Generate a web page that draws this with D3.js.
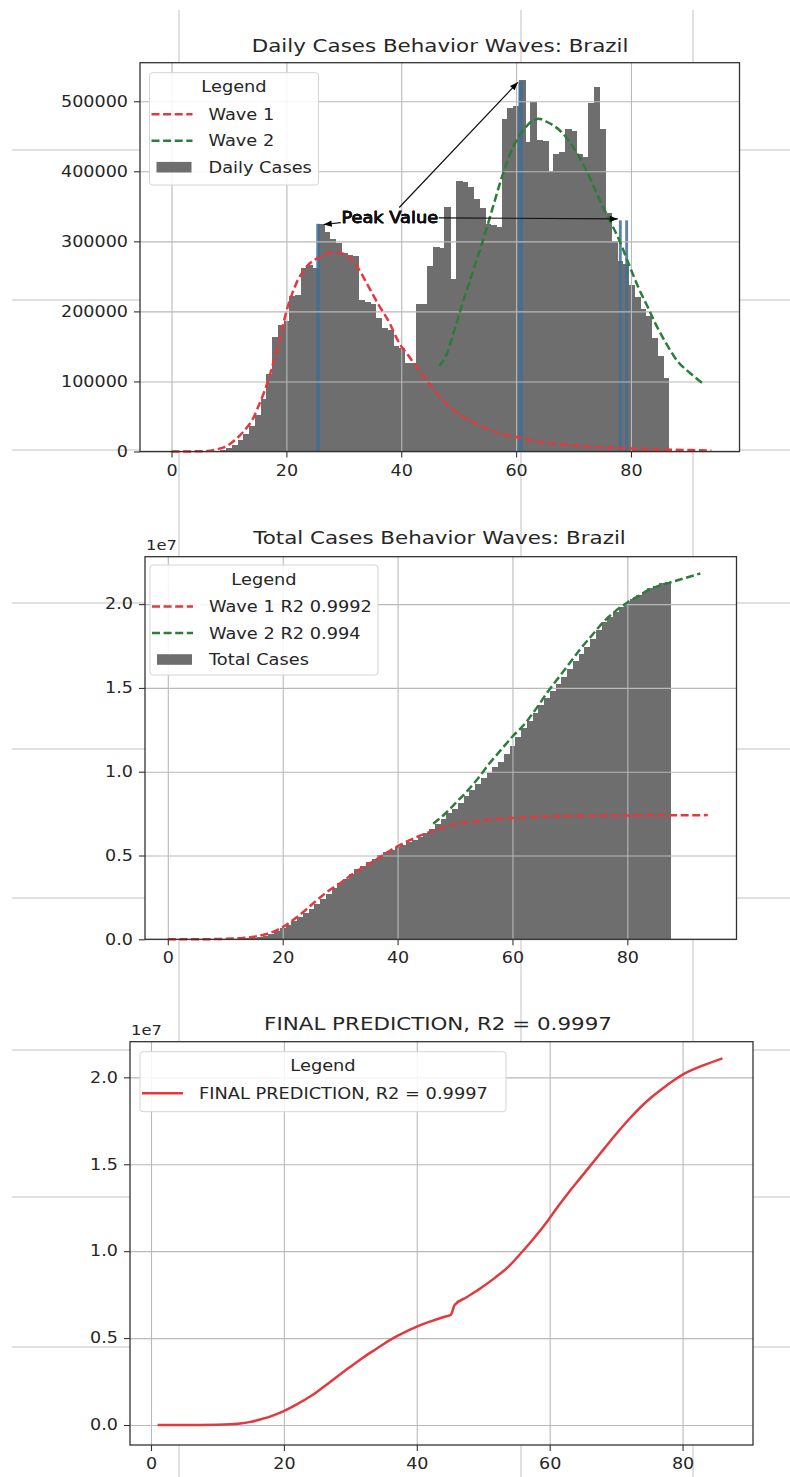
<!DOCTYPE html>
<html>
<head>
<meta charset="utf-8">
<title>Behavior Waves: Brazil</title>
<script src="https://cdn.jsdelivr.net/npm/d3@7"></script>
<style>
  html, body { margin: 0; padding: 0; background: #fff; }
  svg { display: block; }
  text { font-family: "DejaVu Sans", sans-serif; fill: #262626; }
</style>
</head>
<body>
<svg id="chart" width="790" height="1477"></svg>
<script>
// ---------- values ----------

// week index of each bar
const dailyWeeks = d3.range(0, 87);
const totalWeeks = d3.range(0, 88);

// weekly new cases (panel 1 bars)
const dailyCases = [
  0, 0, 0, 0, 0, 0, 0, 30, 300, 1500,
  4500, 9000, 16000, 25000, 36000, 52000, 75000, 110000, 163000, 180000,
  186000, 222000, 224000, 262000, 266000, 262000, 325000, 313000, 304000, 297000,
  283000, 281000, 279000, 216000, 213000, 211000, 191000, 176000, 174000, 150000,
  148000, 127000, 126000, 211000, 210000, 265000, 292000, 290000, 349000, 246000,
  386000, 385000, 377000, 361000, 347000, 325000, 323000, 321000, 475000, 490000,
  493000, 530000, 442000, 499000, 444000, 443000, 401000, 425000, 427000, 461000,
  458000, 424000, 421000, 497000, 521000, 461000, 340000, 300000, 272000, 268000,
  238000, 221000, 204000, 194000, 162000, 137000, 105000
];

// total cases, in units of 1e7 (panel 2 bars)
const totalCases = [
  0, 0, 0, 0, 0, 0, 0, 0, 0.0000, 0.0000,
  0.0002, 0.0006, 0.0015, 0.0031, 0.0056, 0.0092, 0.0144, 0.0219, 0.0329, 0.0492,
  0.0672, 0.0858, 0.1080, 0.1304, 0.1566, 0.1832, 0.2094, 0.2419, 0.2732, 0.3036,
  0.3333, 0.3616, 0.3897, 0.4176, 0.4392, 0.4605, 0.4816, 0.5007, 0.5183, 0.5357,
  0.5507, 0.5655, 0.5782, 0.5908, 0.6119, 0.6329, 0.6594, 0.6886, 0.7176, 0.7525,
  0.7771, 0.8157, 0.8542, 0.8919, 0.9280, 0.9627, 0.9952, 1.0275, 1.0596, 1.1071,
  1.1561, 1.2054, 1.2584, 1.3026, 1.3525, 1.3969, 1.4412, 1.4813, 1.5238, 1.5665,
  1.6126, 1.6584, 1.7008, 1.7429, 1.7926, 1.8447, 1.8908, 1.9248, 1.9548, 1.9820,
  2.0088, 2.0326, 2.0547, 2.0751, 2.0945, 2.1107, 2.1244, 2.1349
];

// fitted waves on the daily chart [week, cases]
const wave1Daily = [
  [0, 0], [5, 300], [9, 5600], [11, 16000], [13, 33000], [14, 44000], [15, 62000],
  [16, 82000], [17, 106000], [18, 135000], [19, 165000], [20, 200000], [21, 225000],
  [22, 245000], [23, 258000], [24, 268000], [25, 274000], [26, 278000], [27, 282000],
  [28, 284000], [29, 284000], [30, 282000], [31, 277000], [32, 268000], [33, 255000],
  [34, 240000], [35, 225000], [36, 210000], [37, 197000], [38, 183000], [39, 165000],
  [40, 150000], [41, 140000], [42, 128000], [44, 106000], [46, 85000], [48, 67000],
  [50, 54000], [52, 44000], [54, 36000], [56, 29000], [58, 24000], [61, 19000],
  [64, 14000], [68, 10000], [72, 7500], [78, 5000], [85, 3000], [94, 1500]
];
const wave2Daily = [
  [46.6, 122000], [47.9, 139000], [49.5, 180000], [51.2, 225000], [53, 270000],
  [54.6, 311000], [56, 350000], [57.9, 401000], [59.5, 435000], [61.3, 459000],
  [62.5, 470000], [63.9, 475000], [65.5, 470000], [67.9, 456000], [69.5, 440000],
  [71.3, 416000], [73, 388000], [74.6, 358000], [76.3, 330000], [78, 301000],
  [79.6, 268000], [81.3, 234000], [83, 205000], [84.6, 177000], [86.3, 152000],
  [88, 130000], [90.3, 112000], [92.7, 96000]
];

// fitted waves on the total chart [week, 1e7 cases]
const wave1Total = [
  [0, 0], [5, 0.0003], [10, 0.003], [13, 0.008], [15, 0.015], [17, 0.03], [19, 0.055],
  [20, 0.073], [22, 0.12], [24, 0.175], [26, 0.235], [28, 0.29], [30, 0.335], [32, 0.385],
  [34, 0.43], [36, 0.47], [38, 0.515], [40, 0.555], [42, 0.59], [44, 0.62], [46, 0.645],
  [48, 0.668], [50, 0.687], [55, 0.71], [60, 0.724], [65, 0.732], [70, 0.736],
  [80, 0.739], [94, 0.741]
];
const wave2Total = [
  [46.2, 0.69], [48, 0.74], [50, 0.81], [52, 0.88], [54, 0.96], [56, 1.05], [58, 1.13],
  [60, 1.21], [62, 1.28], [64, 1.37], [66, 1.47], [68, 1.56], [70, 1.65], [72, 1.74],
  [74, 1.82], [76, 1.9], [78, 1.96], [80, 2.01], [82, 2.05], [84, 2.09], [86, 2.115],
  [88, 2.135], [90, 2.155], [92.7, 2.183]
];

// final prediction [week, 1e7 cases]
const finalPrediction = [
  [1, 0], [5, 0.0003], [10, 0.002], [12, 0.005], [14, 0.012], [15, 0.018], [16, 0.027],
  [17, 0.038], [18, 0.05], [19, 0.064], [20, 0.08], [22, 0.12], [24, 0.165], [26, 0.22],
  [28, 0.278], [30, 0.335], [32, 0.39], [34, 0.44], [36, 0.49], [38, 0.53], [40, 0.566],
  [42, 0.595], [44.2, 0.623], [45.1, 0.633], [45.7, 0.69], [47.5, 0.735], [49.6, 0.787],
  [51.7, 0.845], [53.8, 0.911], [55.6, 0.985], [57.4, 1.064], [59.8, 1.18], [61.3, 1.26],
  [62.8, 1.335], [64.6, 1.42], [66.4, 1.505], [68.2, 1.59], [70, 1.674], [71.8, 1.753],
  [73.6, 1.825], [75.4, 1.888], [77.2, 1.942], [78.7, 1.983], [80.2, 2.02], [81.7, 2.047],
  [83.2, 2.07], [86, 2.109]
];

// blue peak markers on the daily chart [from week, to week, cases]
const peakMarks = [
  [25.2, 25.8, 325000], [60.4, 61.2, 528000], [77.9, 78.4, 330000], [79.0, 79.5, 330000]
];
// where the "Peak Value" arrows point, and where the label sits
const peakPoints = [[26.5, 324000], [60.3, 527000], [77.7, 332000]];
const peakLabelAt = [38, 334000];

const xTicks = [0, 20, 40, 60, 80];
const dailyTicks = [0, 100000, 200000, 300000, 400000, 500000];
const totalTicks = [0, 0.5, 1.0, 1.5, 2.0];

// ---------- drawing ----------
const svg = d3.select('#chart');
const SX = 1.17;            // lettering in the reference is stretched sideways
const BAR = '#6e6e6e';
const RED = '#e3393c';
const GREEN = '#2b7d38';

// faint page grid behind the figure
const pageRows = [150, 300, 450, 603, 749, 898, 1050, 1197, 1347];
const pageCols = [179, 521, 693];
const page = svg.append('g');
pageRows.forEach(y => page.append('line').attr('x1', 12).attr('x2', 790).attr('y1', y).attr('y2', y)
  .attr('stroke', '#e0e0e0').attr('stroke-width', 2));
pageCols.forEach(x => page.append('line').attr('x1', x).attr('x2', x).attr('y1', 10).attr('y2', 1477)
  .attr('stroke', '#e0e0e0').attr('stroke-width', 2));

svg.append('defs').append('marker')
  .attr('id', 'head').attr('viewBox', '0 0 10 10').attr('refX', 10).attr('refY', 5)
  .attr('markerWidth', 9).attr('markerHeight', 8).attr('markerUnits', 'userSpaceOnUse')
  .attr('orient', 'auto')
  .append('path').attr('d', 'M0,1L10,5L0,9Z').attr('fill', '#000');

function label(g, x, y, str, size, anchor = 'start') {
  return g.append('text')
    .attr('transform', `translate(${x},${y}) scale(${SX},1)`)
    .attr('text-anchor', anchor)
    .style('font-size', size + 'px')
    .text(str);
}

function setupPanel(cfg) {
  const x = d3.scaleLinear().domain(cfg.xDomain).range([cfg.left, cfg.right]);
  const y = d3.scaleLinear().domain(cfg.yDomain).range([cfg.bottom, cfg.top]);
  const g = svg.append('g');
  g.append('rect')
    .attr('x', cfg.left).attr('y', cfg.top)
    .attr('width', cfg.right - cfg.left).attr('height', cfg.bottom - cfg.top)
    .attr('fill', '#fff');
  return { cfg, x, y, g };
}

// gridlines sit above the bars, below the curves
function drawGrid(p, yTicks) {
  const { cfg, x, y, g } = p;
  const grid = g.append('g');
  grid.append('g').attr('transform', `translate(0,${cfg.bottom})`)
    .call(d3.axisBottom(x).tickValues(xTicks).tickSize(-(cfg.bottom - cfg.top)).tickFormat(''));
  grid.append('g').attr('transform', `translate(${cfg.left},0)`)
    .call(d3.axisLeft(y).tickValues(yTicks).tickSize(-(cfg.right - cfg.left)).tickFormat(''));
  grid.selectAll('.domain').remove();
  grid.selectAll('line').attr('stroke', '#b9b9b9').attr('stroke-width', 1.1);
}

function drawAxes(p, yTicks, yFormat, title, titleX, titleY, offsetText) {
  const { cfg, x, y, g } = p;
  g.append('rect')
    .attr('x', cfg.left).attr('y', cfg.top)
    .attr('width', cfg.right - cfg.left).attr('height', cfg.bottom - cfg.top)
    .attr('fill', 'none').attr('stroke', '#333').attr('stroke-width', 1.3);

  const xa = g.append('g').attr('transform', `translate(0,${cfg.bottom})`)
    .call(d3.axisBottom(x).tickValues(xTicks).tickSize(6).tickSizeOuter(0));
  xa.selectAll('text').attr('y', 13.5).attr('dy', '0.71em')
    .attr('transform', `scale(${SX},1)`);

  const ya = g.append('g').attr('transform', `translate(${cfg.left},0)`)
    .call(d3.axisLeft(y).tickValues(yTicks).tickFormat(yFormat).tickSize(6).tickSizeOuter(0));
  ya.selectAll('text').attr('x', -12 / SX).attr('dy', '0.32em')
    .attr('transform', `scale(${SX},1)`);

  [xa, ya].forEach(a => {
    a.select('.domain').remove();
    a.selectAll('line').attr('stroke', '#333').attr('stroke-width', 1.1);
    a.selectAll('text').style('font-size', '15px').style('font-family', '"DejaVu Sans", sans-serif')
      .attr('fill', '#262626');
  });

  label(g, titleX, titleY, title, 18.3, 'middle');
  if (offsetText) label(g, cfg.left + 1, cfg.top - 7, offsetText, 14);
}

function drawLegend(g, box, items) {
  const lg = g.append('g');
  lg.append('rect')
    .attr('x', box.x).attr('y', box.y).attr('width', box.w).attr('height', box.h)
    .attr('rx', 3).attr('fill', '#fff').attr('fill-opacity', 0.85)
    .attr('stroke', '#d4d4d4').attr('stroke-width', 1);
  label(lg, box.x + box.w / 2, box.y + 19.5, 'Legend', 15.2, 'middle');
  const tx = box.x + 59;
  items.forEach((it, i) => {
    const base = box.y + 47 + i * 26.5;
    const mid = base - 5.5;
    if (it.kind === 'patch') {
      lg.append('rect').attr('x', tx - 52).attr('y', mid - 5.3)
        .attr('width', 35).attr('height', 10.6).attr('fill', it.color);
    } else {
      lg.append('line').attr('x1', tx - 57).attr('x2', tx - 16).attr('y1', mid).attr('y2', mid)
        .attr('stroke', it.color).attr('stroke-width', 2.5)
        .attr('stroke-dasharray', it.kind === 'dash' ? '8,3.6' : null);
    }
    label(lg, tx, base, it.label, 15.2);
  });
}

function curve(p, pts, color, dashed) {
  const line = d3.line().x(d => p.x(d[0])).y(d => p.y(d[1])).curve(d3.curveMonotoneX);
  p.g.append('path').datum(pts)
    .attr('d', line).attr('fill', 'none')
    .attr('stroke', color).attr('stroke-width', 2.5)
    .attr('stroke-dasharray', dashed ? '8,3.6' : null)
    .attr('stroke-linecap', 'butt');
}

function bars(p, weeks, values) {
  const w = p.x(1) - p.x(0);
  p.g.append('g').attr('shape-rendering', 'crispEdges')
    .selectAll('rect')
    .data(weeks.map((wk, i) => ({ wk, v: values[i] })))
    .join('rect')
    .attr('x', d => p.x(d.wk - 0.5))
    .attr('width', w + 1)
    .attr('y', d => p.y(d.v))
    .attr('height', d => p.y(0) - p.y(d.v))
    .attr('fill', BAR);
}

// ---- panel 1: daily cases ----
function renderDaily() {
  const p = setupPanel({ left: 140, top: 62.7, right: 739.5, bottom: 451.5,
    xDomain: [-5.49, 98.9], yDomain: [0, 555000] });

  bars(p, dailyWeeks, dailyCases);

  p.g.append('g').selectAll('rect').data(peakMarks).join('rect')
    .attr('x', d => p.x(d[0])).attr('width', d => p.x(d[1]) - p.x(d[0]))
    .attr('y', d => p.y(d[2])).attr('height', d => p.y(0) - p.y(d[2]))
    .attr('fill', '#3f6f98').attr('fill-opacity', 0.85);

  drawGrid(p, dailyTicks);
  curve(p, wave1Daily, RED, true);
  curve(p, wave2Daily, GREEN, true);

  // "Peak Value" annotations: the label is drawn once per peak, all in one place
  const cx = p.x(peakLabelAt[0]), cy = p.y(peakLabelAt[1]);
  const hw = 49, hh = 10;
  peakPoints.forEach(pt => {
    const tx = p.x(pt[0]), ty = p.y(pt[1]);
    const dx = tx - cx, dy = ty - cy;
    const t = Math.min(hw / Math.abs(dx || 1e-9), hh / Math.abs(dy || 1e-9));
    p.g.append('line')
      .attr('x1', cx + dx * t).attr('y1', cy + dy * t)
      .attr('x2', tx).attr('y2', ty)
      .attr('stroke', '#111').attr('stroke-width', 1.2)
      .attr('marker-end', 'url(#head)');
    label(p.g, cx, cy + 5.6, 'Peak Value', 15.2, 'middle')
      .style('fill', '#111').style('stroke', '#111').style('stroke-width', 0.35);
  });

  drawAxes(p, dailyTicks, d3.format('d'), 'Daily Cases Behavior Waves: Brazil', 440, 52.3);

  drawLegend(p.g, { x: 149.5, y: 72.7, w: 169, h: 112.3 }, [
    { kind: 'dash', color: RED, label: 'Wave 1' },
    { kind: 'dash', color: GREEN, label: 'Wave 2' },
    { kind: 'patch', color: BAR, label: 'Daily Cases' }
  ]);
}

// ---- panel 2: total cases ----
function renderTotal() {
  const p = setupPanel({ left: 145, top: 556.7, right: 736.5, bottom: 939.3,
    xDomain: [-3.97, 99.0], yDomain: [0, 2.283] });

  bars(p, totalWeeks, totalCases);
  drawGrid(p, totalTicks);
  curve(p, wave1Total, RED, true);
  curve(p, wave2Total, GREEN, true);

  drawAxes(p, totalTicks, d3.format('.1f'), 'Total Cases Behavior Waves: Brazil', 439.5, 544, '1e7');

  drawLegend(p.g, { x: 150, y: 565, w: 228, h: 110 }, [
    { kind: 'dash', color: RED, label: 'Wave 1 R2 0.9992' },
    { kind: 'dash', color: GREEN, label: 'Wave 2 R2 0.994' },
    { kind: 'patch', color: BAR, label: 'Total Cases' }
  ]);
}

// ---- panel 3: final prediction ----
function renderFinal() {
  const p = setupPanel({ left: 130, top: 1041.7, right: 753, bottom: 1445,
    xDomain: [-3.16, 90.6], yDomain: [-0.115, 2.205] });

  drawGrid(p, totalTicks);
  curve(p, finalPrediction, RED, false);

  drawAxes(p, totalTicks, d3.format('.1f'), 'FINAL PREDICTION, R2 = 0.9997', 438, 1030, '1e7');

  drawLegend(p.g, { x: 140, y: 1051.7, w: 366, h: 60 }, [
    { kind: 'solid', color: RED, label: 'FINAL PREDICTION, R2 = 0.9997' }
  ]);
}

renderDaily();
renderTotal();
renderFinal();
</script>
</body>
</html>
